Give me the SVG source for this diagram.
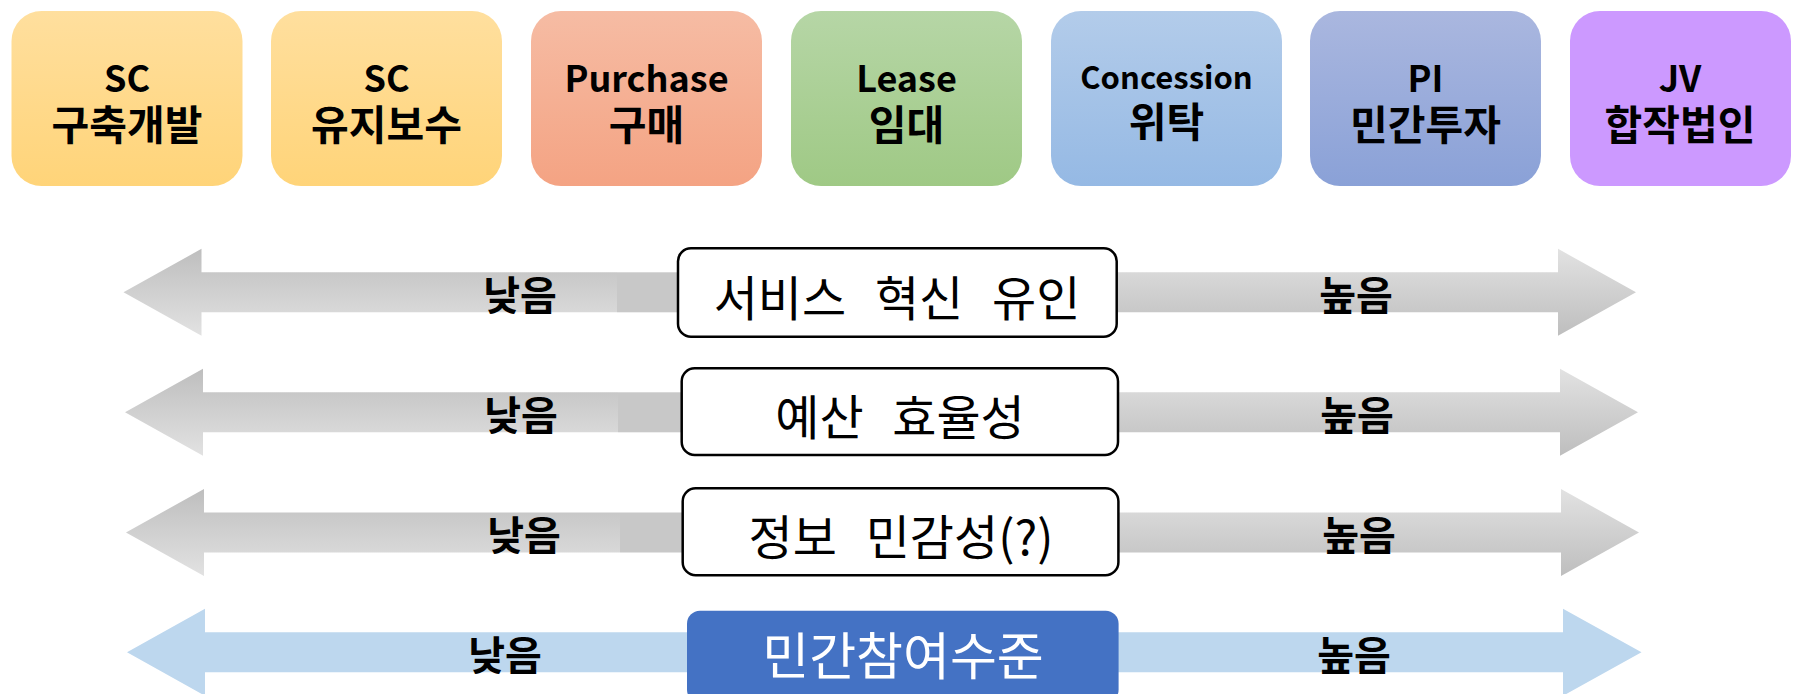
<svg xmlns="http://www.w3.org/2000/svg" width="1793" height="694" viewBox="0 0 1793 694">
<defs>
<linearGradient id="gSC" x1="0" y1="0" x2="0" y2="1"><stop offset="0" stop-color="#FFDF9E"/><stop offset="1" stop-color="#FFD479"/></linearGradient>
<linearGradient id="gPU" x1="0" y1="0" x2="0" y2="1"><stop offset="0" stop-color="#F6BCA4"/><stop offset="1" stop-color="#F4A383"/></linearGradient>
<linearGradient id="gLE" x1="0" y1="0" x2="0" y2="1"><stop offset="0" stop-color="#B6D6A6"/><stop offset="1" stop-color="#9FC985"/></linearGradient>
<linearGradient id="gCO" x1="0" y1="0" x2="0" y2="1"><stop offset="0" stop-color="#B3CCEA"/><stop offset="1" stop-color="#95B9E4"/></linearGradient>
<linearGradient id="gPI" x1="0" y1="0" x2="0" y2="1"><stop offset="0" stop-color="#AAB7DF"/><stop offset="1" stop-color="#8AA1D7"/></linearGradient>
<linearGradient id="gL" x1="0" y1="0" x2="0" y2="1"><stop offset="0" stop-color="#BEBEBE"/><stop offset="1" stop-color="#E2E2E2"/></linearGradient>
<linearGradient id="gR" x1="0" y1="0" x2="0" y2="1"><stop offset="0" stop-color="#E2E2E2"/><stop offset="1" stop-color="#BEBEBE"/></linearGradient>
<style>
.top{stroke:none}
.tl{font-family:"Noto Sans CJK KR","Noto Sans",sans-serif;font-weight:bold;font-size:36px;fill:#000;text-anchor:middle}
.tk{font-family:"Noto Sans CJK KR","Noto Sans",sans-serif;font-weight:bold;font-size:41px;fill:#000;text-anchor:middle}
.lab{font-family:"Noto Sans CJK KR","Noto Sans",sans-serif;font-weight:bold;font-size:40px;fill:#000;text-anchor:middle}
.bx{fill:#fff;stroke:#000;stroke-width:2.5}
.bt{font-family:"Noto Sans CJK KR","Noto Sans",sans-serif;font-size:48px;fill:#000;text-anchor:middle;word-spacing:18px}
.band{fill:#C8C8C8}
.blue{fill:#BDD7EE}
</style>
</defs>
<rect width="1793" height="694" fill="#fff"/>

<g id="n-sc1"><rect class="top" x="11.5" y="11" width="231" height="175" rx="30" fill="url(#gSC)"/><text class="tl" x="127" y="92">SC</text><text class="tk" x="127" y="140">구축개발</text></g>
<g id="n-sc2"><rect class="top" x="271" y="11" width="231" height="175" rx="30" fill="url(#gSC)"/><text class="tl" x="386.5" y="92">SC</text><text class="tk" x="386.5" y="140">유지보수</text></g>
<g id="n-purchase"><rect class="top" x="531" y="11" width="231" height="175" rx="30" fill="url(#gPU)"/><text class="tl" x="646.5" y="92">Purchase</text><text class="tk" x="646.5" y="140">구매</text></g>
<g id="n-lease"><rect class="top" x="791" y="11" width="231" height="175" rx="30" fill="url(#gLE)"/><text class="tl" x="906.5" y="92">Lease</text><text class="tk" x="906.5" y="140">임대</text></g>
<g id="n-concession"><rect class="top" x="1051" y="11" width="231" height="175" rx="30" fill="url(#gCO)"/><text class="tl" x="1166.5" y="89" style="font-size:31px">Concession</text><text class="tk" x="1166.5" y="137">위탁</text></g>
<g id="n-pi"><rect class="top" x="1310" y="11" width="231" height="175" rx="30" fill="url(#gPI)"/><text class="tl" x="1425.5" y="92">PI</text><text class="tk" x="1425.5" y="140">민간투자</text></g>
<g id="n-jv"><rect class="top" x="1570" y="11" width="221" height="175" rx="30" fill="#CC99FF"/><text class="tl" x="1680" y="92">JV</text><text class="tk" x="1680" y="140">합작법인</text></g>

<g id="connectors">
<path d="M123.5,292.3 L201.5,248.8 L201.5,272.3 L617,272.3 L617,312.3 L201.5,312.3 L201.5,335.8 Z" fill="url(#gL)"/>
<rect class="band" x="617" y="272.3" width="66" height="40"/>
<path d="M1112,272.3 L1558,272.3 L1558,248.8 L1636,292.3 L1558,335.8 L1558,312.3 L1112,312.3 Z" fill="url(#gR)"/>

<path d="M125,412.3 L203,368.8 L203,392.3 L618,392.3 L618,432.3 L203,432.3 L203,455.8 Z" fill="url(#gL)"/>
<rect class="band" x="618" y="392.3" width="68" height="40"/>
<path d="M1113,392.3 L1560,392.3 L1560,368.8 L1638,412.3 L1560,455.8 L1560,432.3 L1113,432.3 Z" fill="url(#gR)"/>

<path d="M126,532.5 L204,489 L204,512.5 L620,512.5 L620,552.5 L204,552.5 L204,576 Z" fill="url(#gL)"/>
<rect class="band" x="620" y="512.5" width="67" height="40"/>
<path d="M1114,512.5 L1561,512.5 L1561,489 L1639,532.5 L1561,576 L1561,552.5 L1114,552.5 Z" fill="url(#gR)"/>

<path class="blue" d="M127,652.3 L205,608.8 L205,632.3 L692,632.3 L692,672.3 L205,672.3 L205,695.8 Z"/>
<path class="blue" d="M1114,632.3 L1563,632.3 L1563,608.8 L1641.5,652.3 L1563,695.8 L1563,672.3 L1114,672.3 Z"/>

<text class="lab" x="520" y="310">낮음</text>
<text class="lab" x="1356" y="310">높음</text>
<text class="lab" x="521" y="430">낮음</text>
<text class="lab" x="1357" y="430">높음</text>
<text class="lab" x="524" y="550">낮음</text>
<text class="lab" x="1359" y="550">높음</text>
<text class="lab" x="505" y="670">낮음</text>
<text class="lab" x="1354" y="670">높음</text>
</g>

<g id="n-service"><rect class="bx" x="678" y="248.3" width="438.7" height="88.4" rx="13"/><text class="bt" x="897" y="316">서비스 혁신 유인</text></g>
<g id="n-budget"><rect class="bx" x="681.7" y="368.3" width="436.3" height="86.7" rx="13"/><text class="bt" x="900" y="435">예산 효율성</text></g>
<g id="n-info"><rect class="bx" x="682.7" y="488.3" width="435.7" height="86.9" rx="13"/><text class="bt" x="901" y="555">정보 민감성(?)</text></g>
<g id="n-private"><rect x="687" y="610.7" width="431.6" height="92" rx="13" fill="#4472C4"/><text class="bt" x="903" y="675" style="fill:#fff;font-size:51px">민간참여수준</text></g>
</svg>
